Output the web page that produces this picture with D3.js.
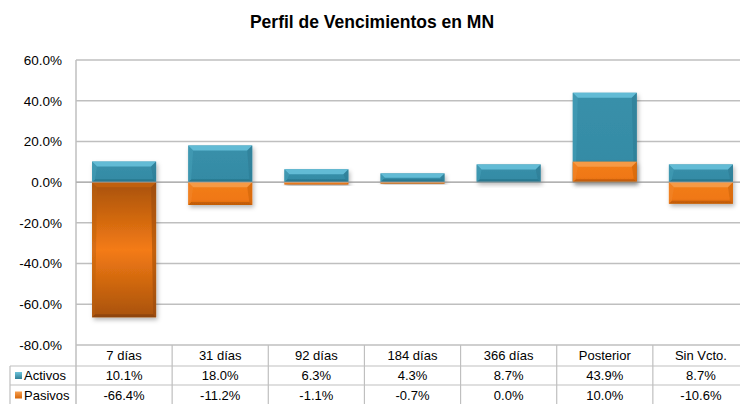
<!DOCTYPE html>
<html><head><meta charset="utf-8">
<script src="https://cdn.jsdelivr.net/npm/d3@7"></script>
<style>body{margin:0;background:#fff}svg{display:block;font-family:"Liberation Sans",Arial,sans-serif}</style>
</head><body><svg id="c" width="740" height="404"></svg>
<script>
const categories = ["7 días","31 días","92 días","184 días","366 días","Posterior","Sin Vcto."];
const activos = [10.1, 18.0, 6.3, 4.3, 8.7, 43.9, 8.7];
const pasivos = [-66.4, -11.2, -1.1, -0.7, 0.0, 10.0, -10.6];
const seriesNames = ["Activos","Pasivos"];
const yTicks = [60,40,20,0,-20,-40,-60,-80];
const title = "Perfil de Vencimientos en MN";

const loc = d3.formatLocale({decimal:".",thousands:",",grouping:[3],currency:["$",""],minus:"-"});
const f1 = loc.format(".1f");
const fmt = v=>f1(v)+"%";

const svg = d3.select("#c");
const x = d3.scaleBand().domain(categories).range([76, 749]).paddingInner(0.3333).paddingOuter(0.16667);
const xb = d3.scaleBand().domain(categories).range([76, 749]);
const y = d3.scaleLinear().domain([-80, 60]).range([345, 60]);
const grid = "#bfbfbf";

const defs = svg.append("defs");
const f = defs.append("filter").attr("id","sh").attr("x","-20%").attr("y","-20%").attr("width","150%").attr("height","150%");
f.append("feDropShadow").attr("dx",1.5).attr("dy",2.5).attr("stdDeviation",2).attr("flood-color","#000").attr("flood-opacity",0.28);
function grad(id, stops){const g=defs.append("linearGradient").attr("id",id).attr("x1",0).attr("y1",0).attr("x2",0).attr("y2",1);
  stops.forEach(s=>g.append("stop").attr("offset",s[0]).attr("stop-color",s[1]));}
grad("gBlue",[[0,"#3990aa"],[1,"#338aa4"]]);
grad("gOrBig",[[0,"#a8520a"],[0.5,"#f47b15"],[1,"#a8520a"]]);
grad("gOr",[[0,"#f27d1c"],[0.75,"#f07815"],[1,"#dc6a0a"]]);
grad("gKeyB",[[0,"#6ec3db"],[1,"#2f8098"]]);
grad("gKeyO",[[0,"#f7a050"],[1,"#d66508"]]);

svg.append("text").attr("x",372).attr("y",28).attr("text-anchor","middle")
  .attr("font-size",17.5).attr("font-weight","bold").attr("fill","#000").text(title);

// gridlines
svg.append("g").selectAll("line").data(yTicks).join("line")
  .attr("x1",76).attr("x2",749).attr("y1",d=>y(d)).attr("y2",d=>y(d))
  .attr("stroke",grid).attr("stroke-width",1.5);
// y axis line
svg.append("line").attr("x1",76).attr("x2",76).attr("y1",y(60)).attr("y2",404).attr("stroke",grid).attr("stroke-width",1.5);
// y labels
const yAxis = d3.axisLeft(y).tickValues(yTicks).tickSize(0).tickPadding(14).tickFormat(fmt);
const ya = svg.append("g").attr("transform","translate(76,0)").call(yAxis);
ya.select(".domain").remove();
ya.selectAll("text").attr("font-size",13.5).attr("fill","#000").attr("font-family","'Liberation Sans',Arial,sans-serif");

function bar(g, cat, v, type){
  const x0 = x(cat), w = x.bandwidth();
  const y0 = Math.min(y(v), y(0)), h = Math.abs(y(v)-y(0));
  if (h < 0.01) return;
  const x1 = x0 + w, y1 = y0 + h;
  const b = Math.min(5, h/2), bb = Math.min(3, h/3);
  const gg = g.append("g").attr("filter","url(#sh)");
  let fill, top, bottom, left, right;
  if (type === "b") { fill="url(#gBlue)"; top="#62bbd5"; bottom="#256c82"; left="#4aa3bd"; right="#2a7890"; }
  else { fill = h > 100 ? "url(#gOrBig)" : "url(#gOr)"; top = h>100 ? "#c06010" : "#f69a45"; bottom = h>100 ? "#7e3c05":"#b05204"; left = h>100?"#b8600f":"#f28a30"; right = h>100?"#93480a":"#c86008"; }
  gg.append("rect").attr("x",x0).attr("y",y0).attr("width",w).attr("height",h).attr("fill",fill);
  gg.append("path").attr("d",`M${x0},${y0}L${x1},${y0}L${x1-b},${y0+b}L${x0+b},${y0+b}Z`).attr("fill",top);
  gg.append("path").attr("d",`M${x0},${y1}L${x1},${y1}L${x1-bb},${y1-bb}L${x0+bb},${y1-bb}Z`).attr("fill",bottom).attr("opacity",0.6);
  gg.append("path").attr("d",`M${x0},${y0}L${x0+b},${y0+b}L${x0+bb},${y1-bb}L${x0},${y1}Z`).attr("fill",left).attr("opacity",0.45);
  gg.append("path").attr("d",`M${x1},${y0}L${x1-b},${y0+b}L${x1-bb},${y1-bb}L${x1},${y1}Z`).attr("fill",right).attr("opacity",0.5);
}
const bars = svg.append("g");
categories.forEach((c,i)=>bar(bars,c,activos[i],"b"));
categories.forEach((c,i)=>bar(bars,c,pasivos[i],"o"));
// zero line on top
svg.append("line").attr("x1",76).attr("x2",749).attr("y1",y(0)).attr("y2",y(0)).attr("stroke","#a6a6a6").attr("stroke-width",1.2).attr("opacity",0.7);

// data table
const t = svg.append("g");
t.selectAll("line.v").data(categories).join("line")
  .attr("x1",d=>xb(d)+xb.bandwidth()).attr("x2",d=>xb(d)+xb.bandwidth()).attr("y1",345).attr("y2",404)
  .attr("stroke",grid).attr("stroke-width",1.2);
[366,385].forEach(yy=>t.append("line").attr("x1",10).attr("x2",749).attr("y1",yy).attr("y2",yy).attr("stroke",grid).attr("stroke-width",1.2));
t.append("line").attr("x1",10).attr("x2",10).attr("y1",366).attr("y2",404).attr("stroke",grid).attr("stroke-width",1.2);
t.selectAll("text.h").data(categories).join("text").attr("x",d=>xb(d)+xb.bandwidth()/2).attr("y",360)
  .attr("text-anchor","middle").attr("font-size",13).text(d=>d);
t.selectAll("text.a").data(activos).join("text").attr("x",(d,i)=>xb(categories[i])+xb.bandwidth()/2).attr("y",380)
  .attr("text-anchor","middle").attr("font-size",13).text(fmt);
t.selectAll("text.p").data(pasivos).join("text").attr("x",(d,i)=>xb(categories[i])+xb.bandwidth()/2).attr("y",399.5)
  .attr("text-anchor","middle").attr("font-size",13).text(fmt);
// legend keys
[["gKeyB",375.5],["gKeyO",395]].forEach((k,i)=>{
  t.append("rect").attr("x",15).attr("y",k[1]-3.5).attr("width",7).attr("height",7).attr("fill",`url(#${k[0]})`);
  t.append("text").attr("x",24).attr("y",k[1]+4.8).attr("font-size",13).text(seriesNames[i]);
});
</script></body></html>
